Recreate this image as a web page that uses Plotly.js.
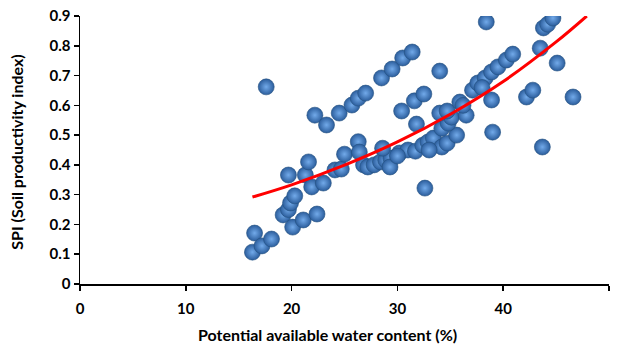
<!DOCTYPE html>
<html>
<head>
<meta charset="utf-8">
<script src="https://cdn.plot.ly/plotly-3.0.1.min.js"></script>
<style>html,body{margin:0;padding:0;background:#fff;}#chart{width:617px;height:345px;}</style>
</head>
<body>
<div id="chart"></div>
<script>
// Potential available water content (%)
const pawc = [16.3,16.5,17.2,18.1,17.6,19.2,19.7,19.9,20.3,19.7,20.1,21.1,22.4,21.3,21.6,21.9,23.0,22.2,23.3,24.1,
  24.7,25.0,24.5,25.7,26.3,27.0,26.3,26.4,26.8,27.2,27.8,28.4,28.9,29.4,29.3,28.6,30.2,31.0,31.7,32.4,
  32.9,33.4,34.2,34.7,35.6,34.2,34.8,35.1,32.6,31.8,30.4,31.6,32.5,28.5,29.5,30.5,31.4,34.0,34.0,34.7,
  35.9,36.5,37.1,37.6,38.3,38.9,39.5,40.3,40.9,38.4,38.9,39.0,42.2,42.8,43.5,43.8,44.2,44.7,45.1,46.6,
  43.7,38.0,30.0,33.0,36.2];
// SPI (Soil productivity index)
const spi = [0.107,0.171,0.128,0.151,0.662,0.232,0.250,0.272,0.296,0.366,0.191,0.215,0.235,0.366,0.410,0.326,0.339,0.567,0.534,0.383,
  0.386,0.436,0.574,0.601,0.624,0.641,0.478,0.443,0.400,0.393,0.400,0.410,0.416,0.423,0.393,0.456,0.440,0.450,0.446,0.466,
  0.477,0.490,0.460,0.473,0.500,0.523,0.540,0.560,0.322,0.537,0.581,0.615,0.638,0.692,0.722,0.759,0.779,0.715,0.574,0.581,
  0.611,0.567,0.651,0.675,0.692,0.712,0.729,0.752,0.772,0.880,0.618,0.510,0.628,0.651,0.792,0.860,0.872,0.893,0.742,0.628,
  0.460,0.660,0.430,0.450,0.600];
// Trend line values
const trendX = [16.3,20,25,30,35,40,45,47.9];
const trendY = [0.292,0.333,0.399,0.477,0.570,0.680,0.813,0.900];

const xTicks = [0,10,20,30,40,50];
const yTicks = [0,0.1,0.2,0.3,0.4,0.5,0.6,0.7,0.8,0.9];

const xTitle = 'Potential available water content (%)';
const yTitle = 'SPI (Soil productivity index)';

const fontFam = 'Lato, "Open Sans", sans-serif';

const data = [
  {
    x: pawc, y: spi, type: 'scatter', mode: 'markers',
    marker: {
      size: 16, color: '#2b5d9c',
      gradient: {type: 'radial', color: '#72aaea'},
      line: {color: '#24507f', width: 0.6}
    },
    hoverinfo: 'x+y', showlegend: false
  },
  {
    x: trendX, y: trendY, type: 'scatter', mode: 'lines',
    line: {color: '#ff0000', width: 3, shape: 'spline'},
    hoverinfo: 'skip', showlegend: false
  }
];

const layout = {
  width: 617, height: 345,
  margin: {l: 80, r: 8, t: 16, b: 61},
  paper_bgcolor: '#ffffff', plot_bgcolor: '#ffffff',
  font: {family: fontFam, size: 12, color: '#000'},
  showlegend: false,
  xaxis: {
    range: [0, 50], tickvals: xTicks, ticktext: xTicks.map(String),
    showgrid: false, zeroline: false,
    showline: true, linecolor: '#000', linewidth: 1.5,
    ticks: 'outside', ticklen: 5, tickwidth: 1.5, tickcolor: '#000',
    ticklabelstandoff: 5,
    tickfont: {family: fontFam, size: 15, color: '#000', weight: 'bold'}
  },
  yaxis: {
    range: [0, 0.9], tickvals: yTicks, ticktext: yTicks.map(v => String(v)),
    showgrid: false, zeroline: false,
    showline: true, linecolor: '#000', linewidth: 1.5,
    ticks: 'outside', ticklen: 5, tickwidth: 1.5, tickcolor: '#000',
    tickfont: {family: fontFam, size: 15, color: '#000', weight: 'bold'}
  },
  annotations: [
    {text: '<b>' + xTitle + '</b>', xref: 'paper', yref: 'paper', x: 0.467, y: -0.187,
     xanchor: 'center', yanchor: 'middle', showarrow: false, font: {family: fontFam, size: 16, color: '#000'}},
    {text: '<b>' + yTitle + '</b>', xref: 'paper', yref: 'paper', x: -0.119, y: 0.49, textangle: -90,
     xanchor: 'center', yanchor: 'middle', showarrow: false, font: {family: fontFam, size: 16, color: '#000'}}
  ]
};

Plotly.newPlot('chart', data, layout, {displayModeBar: false, staticPlot: true});
</script>
</body>
</html>
